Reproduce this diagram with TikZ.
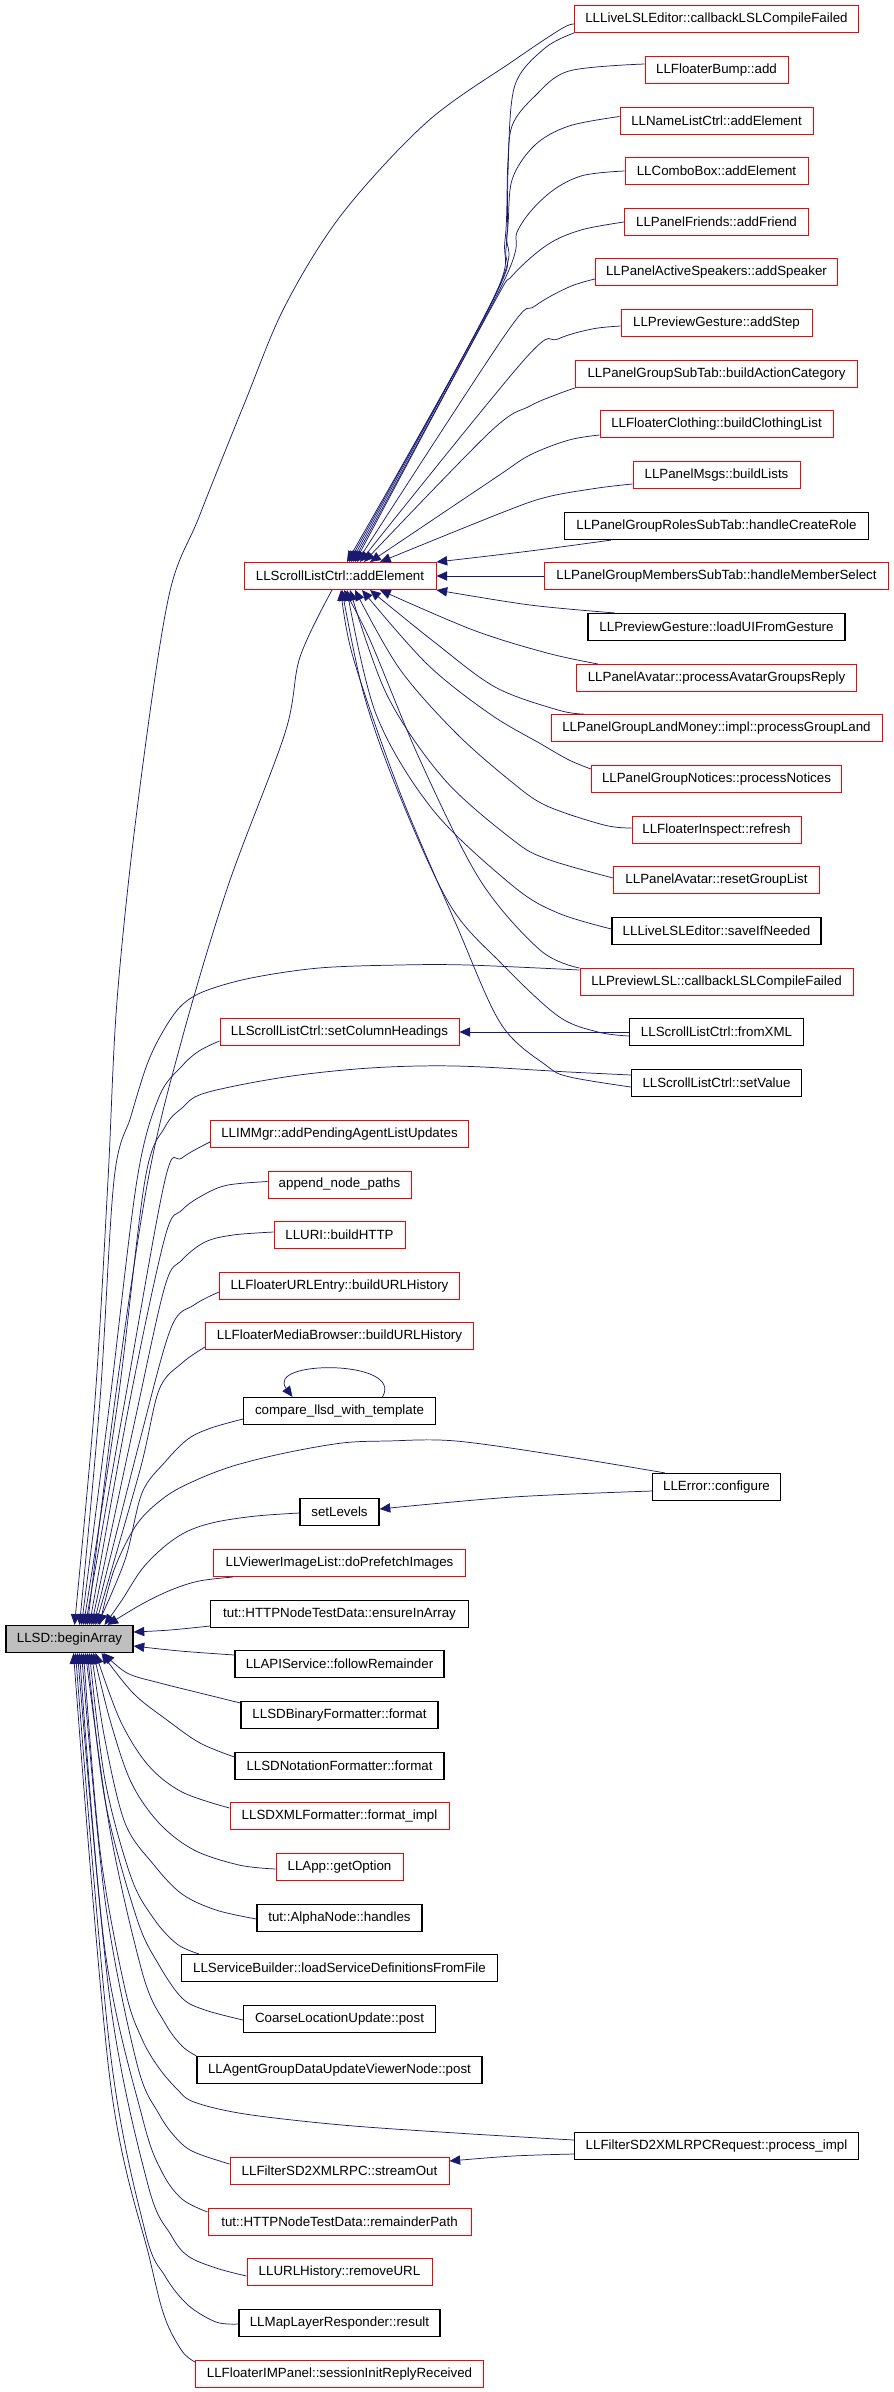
\documentclass[tikz,border=0pt]{standalone}
\usepackage{fontspec}
\setmainfont{Liberation Sans}
\usetikzlibrary{arrows.meta,calc}
\definecolor{edgec}{HTML}{191970}
\definecolor{grayf}{HTML}{BFBFBF}
\tikzset{
 bx/.style={draw, line width=0.75pt, minimum height=20.25pt, inner sep=0pt, font=\fontsize{10}{12}\selectfont, anchor=center},
 rb/.style={bx, draw=red},
 kb/.style={bx, draw=black, line width=0.9pt},
 gb/.style={bx, draw=black, line width=0.9pt, fill=grayf},
 e/.style={draw=edgec, line width=0.55pt, -{Triangle[length=8pt,width=7pt]}},
 wd/.style={minimum width=#1*0.75pt},
}
\newcommand\edgeplot[1]{\draw[e] plot[smooth,tension=0.55] coordinates {#1};}
\begin{document}
\begin{tikzpicture}[x=0.75pt,y=-0.75pt]
\useasboundingbox (0,0) rectangle (893,2392);
% right column
\node[rb, wd=284] (n1) at (716.5,19) {LLLiveLSLEditor::callbackLSLCompileFailed};
\node[rb, wd=143] (n2) at (716.5,70) {LLFloaterBump::add};
\node[rb, wd=193] (n3) at (716.5,120.5) {LLNameListCtrl::addElement};
\node[rb, wd=183] (n4) at (716.5,171) {LLComboBox::addElement};
\node[rb, wd=184] (n5) at (716.5,222) {LLPanelFriends::addFriend};
\node[rb, wd=242] (n6) at (716.5,272) {LLPanelActiveSpeakers::addSpeaker};
\node[rb, wd=191] (n7) at (716.5,323) {LLPreviewGesture::addStep};
\node[rb, wd=282] (n8) at (716.5,374) {LLPanelGroupSubTab::buildActionCategory};
\node[rb, wd=233] (n9) at (716.5,424) {LLFloaterClothing::buildClothingList};
\node[rb, wd=167] (n10) at (716.5,475) {LLPanelMsgs::buildLists};
\node[kb, wd=304] (n11) at (716.5,526) {LLPanelGroupRolesSubTab::handleCreateRole};
\node[rb, wd=344] (n12) at (716.5,576) {LLPanelGroupMembersSubTab::handleMemberSelect};
\node[kb, wd=257] (n13) at (716.5,627) {LLPreviewGesture::loadUIFromGesture};
\node[rb, wd=280] (n14) at (716.5,678) {LLPanelAvatar::processAvatarGroupsReply};
\node[rb, wd=331] (n15) at (716.5,728) {LLPanelGroupLandMoney::impl::processGroupLand};
\node[rb, wd=250] (n16) at (716.5,779) {LLPanelGroupNotices::processNotices};
\node[rb, wd=169] (n17) at (716.5,830) {LLFloaterInspect::refresh};
\node[rb, wd=206] (n18) at (716.5,880) {LLPanelAvatar::resetGroupList};
\node[kb, wd=209] (n19) at (716.5,931) {LLLiveLSLEditor::saveIfNeeded};
\node[rb, wd=273] (n20) at (716.5,982) {LLPreviewLSL::callbackLSLCompileFailed};
\node[kb, wd=174] (n21) at (716.5,1032) {LLScrollListCtrl::fromXML};
\node[kb, wd=170] (n22) at (716.5,1083) {LLScrollListCtrl::setValue};
\node[kb, wd=128] (err) at (716.5,1487) {LLError::configure};
\node[kb, wd=284] (prc) at (716.5,2146) {LLFilterSD2XMLRPCRequest::process\_impl};
% middle column
\node[rb, wd=192] (ae) at (340,576) {LLScrollListCtrl::addElement};
\node[rb, wd=239] (sch) at (339.5,1032) {LLScrollListCtrl::setColumnHeadings};
\node[rb, wd=258] (imm) at (339.5,1134) {LLIMMgr::addPendingAgentListUpdates};
\node[rb, wd=143] (app) at (339.5,1184.5) {append\_node\_paths};
\node[rb, wd=131] (uri) at (339.5,1235) {LLURI::buildHTTP};
\node[rb, wd=240] (urle) at (339.5,1286) {LLFloaterURLEntry::buildURLHistory};
\node[rb, wd=268] (med) at (339.5,1336) {LLFloaterMediaBrowser::buildURLHistory};
\node[kb, wd=192] (cmp) at (339.5,1411) {compare\_llsd\_with\_template};
\node[kb, wd=79] (setl) at (339.5,1512) {setLevels};
\node[rb, wd=252] (pre) at (339.5,1563) {LLViewerImageList::doPrefetchImages};
\node[kb, wd=258] (ens) at (339.5,1614) {tut::HTTPNodeTestData::ensureInArray};
\node[kb, wd=209] (fol) at (339.5,1664) {LLAPIService::followRemainder};
\node[kb, wd=197] (bin) at (339.5,1715) {LLSDBinaryFormatter::format};
\node[kb, wd=209] (nota) at (339.5,1766) {LLSDNotationFormatter::format};
\node[rb, wd=219] (xml) at (339.5,1816) {LLSDXMLFormatter::format\_impl};
\node[rb, wd=127] (get) at (339.5,1867) {LLApp::getOption};
\node[kb, wd=165] (han) at (339.5,1918) {tut::AlphaNode::handles};
\node[kb, wd=316] (svc) at (339.5,1968) {LLServiceBuilder::loadServiceDefinitionsFromFile};
\node[kb, wd=192] (coa) at (339.5,2019) {CoarseLocationUpdate::post};
\node[kb, wd=285] (agd) at (339.5,2070) {LLAgentGroupDataUpdateViewerNode::post};
\node[rb, wd=219] (so) at (339.5,2171) {LLFilterSD2XMLRPC::streamOut};
\node[rb, wd=263] (rem) at (339.5,2222) {tut::HTTPNodeTestData::remainderPath};
\node[rb, wd=185] (rmu) at (339.5,2272) {LLURLHistory::removeURL};
\node[kb, wd=201] (res) at (339.5,2323) {LLMapLayerResponder::result};
\node[rb, wd=288] (ses) at (339.5,2374) {LLFloaterIMPanel::sessionInitReplyReceived};
% root
\node[gb, wd=127] (ba) at (69.5,1639) {LLSD::beginArray};

% ---- edges into addElement (from above)
\edgeplot{(n1.south west) (545,48) (515,85) (508,160) (505,240) (490,306) ($(ae.north)+(7,0)$)}
\edgeplot{($(n2.west)+(0,-6)$) (569,71) (535,96) (512,126) (508,172) (506,249) (493,300) ($(ae.north)+(9,0)$)}
\edgeplot{($(n3.west)+(0,-4)$) (569,126) (535,145) (512,180) (507,235) (495,295) ($(ae.north)+(11,0)$)}
\edgeplot{(n4.west) (581,176) (547,195) (518,230) (501,287) ($(ae.north)+(13,0)$)}
\edgeplot{(n5.west) (581,230) (547,245) (512,276) (490,310) ($(ae.north)+(15,0)$)}
\edgeplot{($(n6.west)+(0,7)$) (569,287) (535,306) (505,335) ($(ae.north)+(17,0)$)}
\edgeplot{($(n7.west)+(0,3)$) (592,329) (558,339) (524,360) ($(ae.north)+(20,0)$)}
\edgeplot{(n8.south west) (558,394) (530,406) (490,432) ($(ae.north)+(24,0)$)}
\edgeplot{($(n9.west)+(0,11)$) (569,440) (530,455) (495,478) ($(ae.north)+(30,0)$)}
\edgeplot{($(n10.west)+(0,9)$) (598,488) (547,497) (501,513) ($(ae.north)+(40,0)$)}
\edgeplot{($(n11.south west)+(47,0)$) (530,551) (ae.north east)}
\draw[e] (n12.west) -- (ae.east);
\edgeplot{($(n13.north west)+(27,0)$) (530,605) (ae.south east)}
% ---- edges into addElement (from below)
\edgeplot{($(n14.north west)+(22,0)$) (547,653) (473,630) ($(ae.south)+(40,0)$)}
\edgeplot{($(n15.north west)+(33,0)$) (558,710) (495,687) (433,641) ($(ae.south)+(30,0)$)}
\edgeplot{($(n16.west)+(0,-10)$) (569,760) (541,744) (490,714) (427,664) ($(ae.south)+(22,0)$)}
\edgeplot{($(n17.west)+(0,-2)$) (604,825) (547,806) (513,783) (456,733) (399,668) ($(ae.south)+(15,0)$)}
\edgeplot{($(n18.west)+(0,-2)$) (547,859) (513,840) (444,779) (387,695) ($(ae.south)+(10,0)$)}
\edgeplot{($(n19.west)+(0,-2)$) (558,913) (513,886) (433,810) (376,714) ($(ae.south)+(7,0)$)}
\edgeplot{(n20.north west) (540,950) (480,880) (420,760) (370,640) ($(ae.south)+(4,0)$)}
\edgeplot{($(n21.west)+(0,4)$) (598,1032) (558,1016) (501,963) (450,905) (399,794) (364,695) ($(ae.south)+(2,0)$)}
\edgeplot{($(n22.west)+(0,4)$) (570,1077) (547,1066) (501,1024) (456,924) (399,790) (353,657) ($(ae.south)+(1,0)$)}
% ---- other edges
\draw[e] (n21.west) -- (sch.east);
\edgeplot{($(err.west)+(0,4)$) (513,1497) ($(setl.east)+(0,-3)$)}
\edgeplot{($(prc.west)+(0,8)$) (513,2156) ($(so.east)+(0,-10)$)}
\draw[e] ($(cmp.north)+(43,0)$) .. controls +(22,-37.5) and +(-28,-37.5) .. ($(cmp.north)+(-47,0)$);
% ---- edges into beginArray (from above)
\edgeplot{($(ae.south)+(-8,0)$) (300,657) (285,733) (228,886) (182,1039) (148,1180) (115,1400) ($(ba.north)+(18,0)$)}
\edgeplot{($(n1.west)+(0,5)$) (561,29) (513,61) (427,122) (342,214) (285,306) (245,402) (199,517) (168,600) (137,810) (117,1001) (108,1180) (95,1400) ($(ba.north)+(5,0)$)}
\edgeplot{($(n20.north west)+(0,2)$) (467,965) (399,965) (319,968) (251,978) (205,991) (182,1005) (165,1028) (148,1062) (131,1116) (114,1180) (100,1400) ($(ba.north)+(10,0)$)}
\edgeplot{($(sch.west)+(0,9)$) (199,1051) (182,1066) (159,1097) (137,1180) (110,1400) ($(ba.north)+(12,0)$)}
\edgeplot{($(n22.west)+(0,-8)$) (569,1072) (456,1066) (370,1068) (285,1077) (205,1093) (182,1108) (165,1127) (145,1180) (118,1400) ($(ba.north)+(14,0)$)}
\edgeplot{($(imm.west)+(0,8)$) (182,1158) (165,1180) (125,1400) ($(ba.north)+(16,0)$)}
\edgeplot{($(app.west)+(0,-3)$) (228,1185) (205,1194) (182,1210) (165,1237) (130,1400) ($(ba.north)+(20,0)$)}
\edgeplot{($(uri.west)+(0,-3)$) (233,1235) (205,1242) (182,1260) (165,1286) (135,1420) ($(ba.north)+(22,0)$)}
\edgeplot{($(urle.west)+(0,6)$) (194,1305) (171,1328) (140,1440) ($(ba.north)+(24,0)$)}
\edgeplot{($(med.west)+(0,11)$) (182,1363) (159,1390) (140,1470) ($(ba.north)+(26,0)$)}
\edgeplot{($(cmp.west)+(0,8)$) (211,1428) (188,1439) (165,1462) (142,1493) (125,1560) ($(ba.north)+(28,0)$)}
\edgeplot{($(err.north west)+(13,0)$) (569,1457) (456,1441) (387,1441) (342,1443) (285,1453) (233,1466) (194,1481) (165,1497) (137,1524) (114,1570) ($(ba.north)+(30,0)$)}
\edgeplot{($(setl.west)+(0,1)$) (256,1516) (216,1522) (188,1531) (165,1546) (142,1569) (122,1600) ($(ba.north)+(35,0)$)}
\edgeplot{($(pre.south west)+(20,0)$) (199,1581) (171,1590) (142,1604) ($(ba.north)+(38,0)$)}
\edgeplot{($(ens.west)+(0,12)$) (170,1630) ($(ba.east)+(0,-7)$)}
\edgeplot{($(fol.west)+(0,-9)$) (180,1651) ($(ba.east)+(0,7)$)}
% ---- edges into beginArray (from below)
\edgeplot{($(bin.west)+(0,-12)$) (200,1693) (160,1683) (127,1673) ($(ba.south)+(34,0)$)}
\edgeplot{($(nota.west)+(0,-9)$) (200,1743) (167,1720) (133,1693) ($(ba.south)+(32,0)$)}
\edgeplot{($(xml.west)+(0,-8)$) (182,1792) (148,1765) (120,1720) ($(ba.south)+(26,0)$)}
\edgeplot{($(get.west)+(0,2)$) (239,1865) (194,1850) (159,1823) (131,1782) (110,1720) ($(ba.south)+(24,0)$)}
\edgeplot{($(han.west)+(0,1)$) (216,1910) (182,1894) (154,1865) (125,1823) (105,1740) ($(ba.south)+(22,0)$)}
\edgeplot{($(svc.north west)+(18,0)$) (177,1944) (154,1919) (131,1877) (105,1780) ($(ba.south)+(20,0)$)}
\edgeplot{($(coa.west)+(0,1)$) (205,2010) (182,1998) (159,1965) (137,1919) (105,1800) ($(ba.south)+(18,0)$)}
\edgeplot{(agd.north west) (182,2046) (165,2023) (143,1975) (110,1830) ($(ba.south)+(16,0)$)}
\edgeplot{($(prc.west)+(0,-6)$) (456,2133) (342,2125) (245,2114) (194,2102) (177,2089) (159,2068) (142,2039) (125,1989) (100,1850) ($(ba.south)+(14,0)$)}
\edgeplot{($(so.west)+(0,-7)$) (194,2152) (177,2139) (159,2114) (137,2064) (105,1900) ($(ba.south)+(12,0)$)}
\edgeplot{($(rem.west)+(0,-10)$) (182,2199) (162,2172) (143,2120) (105,1950) ($(ba.south)+(10,0)$)}
\edgeplot{($(rmu.west)+(0,4)$) (216,2268) (188,2256) (171,2235) (148,2185) (110,2000) ($(ba.south)+(8,0)$)}
\edgeplot{($(res.west)+(0,1)$) (216,2322) (188,2305) (165,2276) (145,2231) (110,2050) ($(ba.south)+(6,0)$)}
\edgeplot{($(ses.west)+(0,-12)$) (182,2351) (165,2318) (150,2260) (110,2080) ($(ba.south)+(4,0)$)}
\end{tikzpicture}
\end{document}
